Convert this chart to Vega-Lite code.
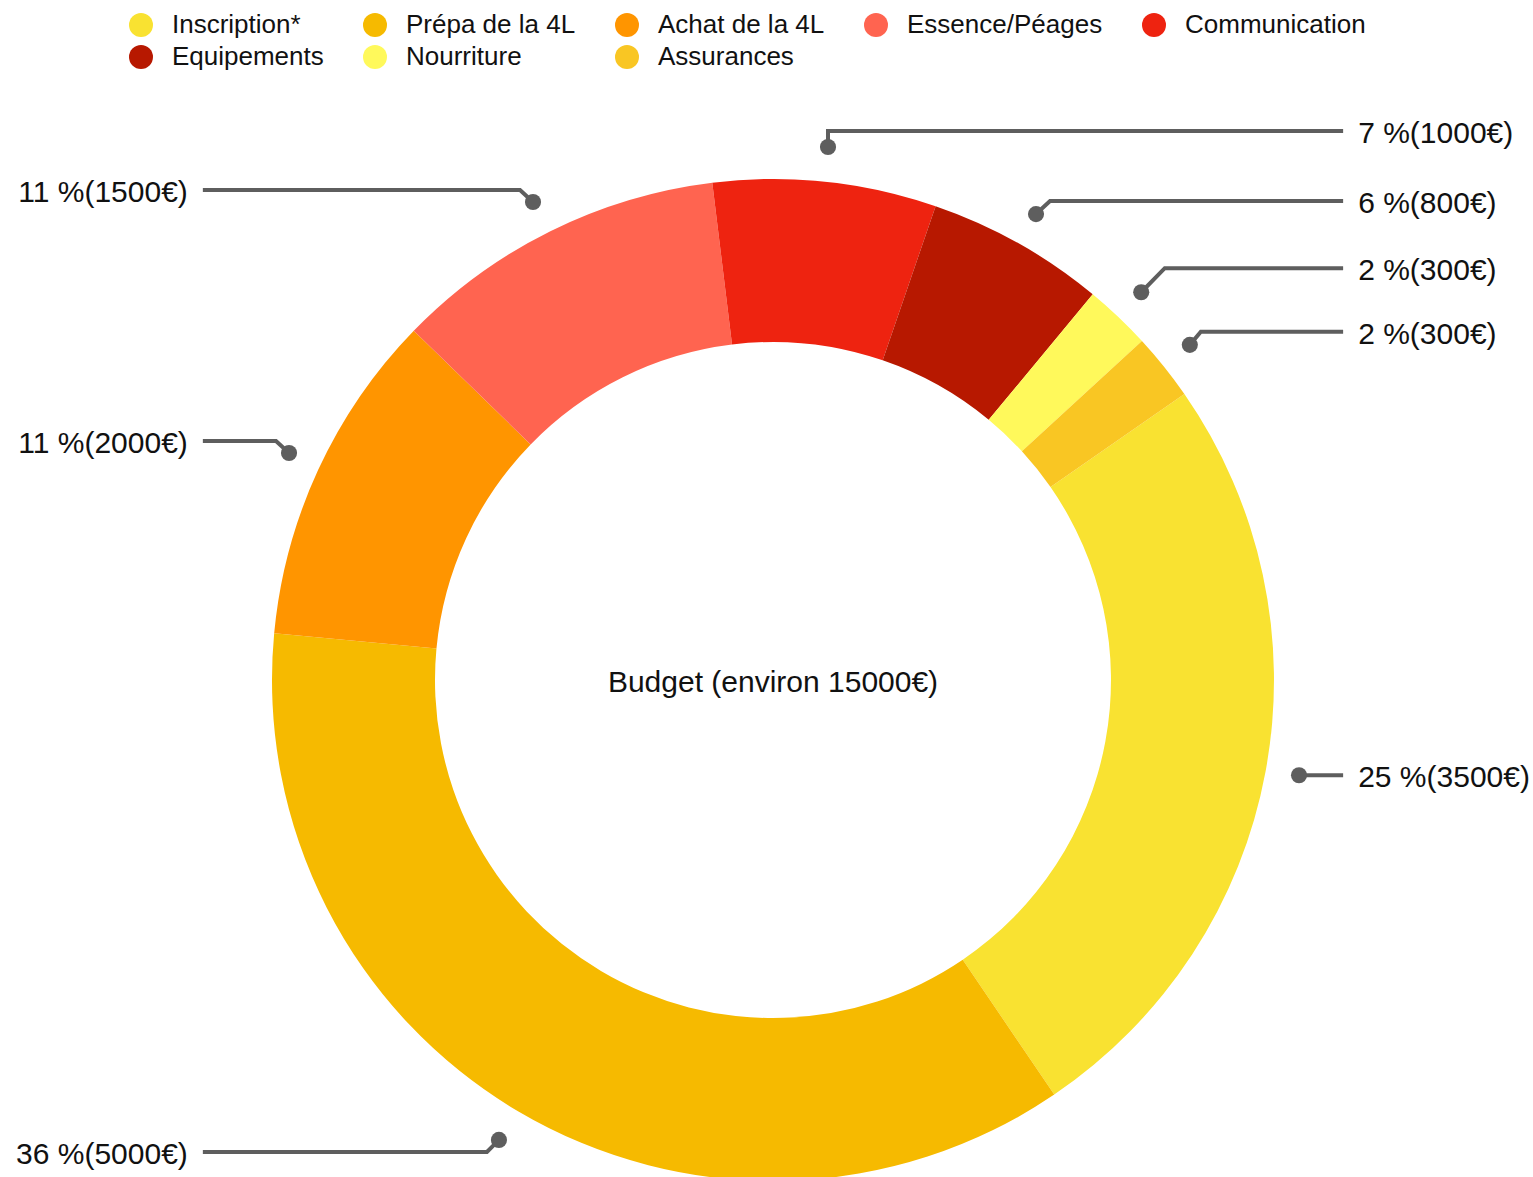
{
  "$schema": "https://vega.github.io/schema/vega-lite/v6.json",
  "width": 1533,
  "height": 1177,
  "autosize": {"type": "none"},
  "padding": 0,
  "background": "white",
  "config": {"view": {"stroke": null}, "font": "Liberation Sans"},
  "datasets": {
    "slices": [
      {"category": "Inscription*", "value": 3500, "order": 1},
      {"category": "Prépa de la 4L", "value": 5000, "order": 2},
      {"category": "Achat de la 4L", "value": 1500, "order": 3},
      {"category": "Essence/Péages", "value": 1500, "order": 4},
      {"category": "Communication", "value": 1000, "order": 5},
      {"category": "Equipements", "value": 800, "order": 6},
      {"category": "Nourriture", "value": 300, "order": 7},
      {"category": "Assurances", "value": 300, "order": 8}
    ],
    "leaders": [
      {"id": "c", "i": 0, "x": 10.98, "y": 106.4},
      {"id": "c", "i": 1, "x": 10.98, "y": 109.6},
      {"id": "c", "i": 2, "x": 113.8, "y": 109.6},
      {"id": "e", "i": 0, "x": 52.5, "y": 93.0},
      {"id": "e", "i": 1, "x": 55.3, "y": 95.6},
      {"id": "e", "i": 2, "x": 113.8, "y": 95.6},
      {"id": "n", "i": 0, "x": 73.5, "y": 77.4},
      {"id": "n", "i": 1, "x": 78.2, "y": 82.2},
      {"id": "n", "i": 2, "x": 113.8, "y": 82.2},
      {"id": "a", "i": 0, "x": 83.2, "y": 66.9},
      {"id": "a", "i": 1, "x": 85.4, "y": 69.5},
      {"id": "a", "i": 2, "x": 113.8, "y": 69.5},
      {"id": "i", "i": 0, "x": 105.0, "y": -19.0},
      {"id": "i", "i": 1, "x": 113.8, "y": -19.0},
      {"id": "p", "i": 0, "x": -54.7, "y": -91.8},
      {"id": "p", "i": 1, "x": -57.1, "y": -94.2},
      {"id": "p", "i": 2, "x": -113.8, "y": -94.2},
      {"id": "h", "i": 0, "x": -96.6, "y": 45.3},
      {"id": "h", "i": 1, "x": -99.2, "y": 47.7},
      {"id": "h", "i": 2, "x": -113.8, "y": 47.7},
      {"id": "s", "i": 0, "x": -47.9, "y": 95.4},
      {"id": "s", "i": 1, "x": -50.5, "y": 97.8},
      {"id": "s", "i": 2, "x": -113.8, "y": 97.8}
    ],
    "labels": [
      {"text": "7 %(1000€)", "side": "right", "x": 116.8, "y": 109.6},
      {"text": "6 %(800€)", "side": "right", "x": 116.8, "y": 95.6},
      {"text": "2 %(300€)", "side": "right", "x": 116.8, "y": 82.2},
      {"text": "2 %(300€)", "side": "right", "x": 116.8, "y": 69.5},
      {"text": "25 %(3500€)", "side": "right", "x": 116.8, "y": -19.0},
      {"text": "36 %(5000€)", "side": "left", "x": -116.8, "y": -94.2},
      {"text": "11 %(2000€)", "side": "left", "x": -116.8, "y": 47.7},
      {"text": "11 %(1500€)", "side": "left", "x": -116.8, "y": 97.8}
    ],
    "center": [{"text": "Budget (environ 15000€)"}]
  },
  "layer": [
    {
      "data": {"name": "slices"},
      "mark": {"type": "arc", "outerRadius": 501, "innerRadius": 338, "strokeWidth": 0},
      "encoding": {
        "x": {"datum": 0, "type": "quantitative", "scale": {"domain": [-154.29, 151.7], "nice": false, "zero": false}, "axis": null},
        "y": {"datum": 0, "type": "quantitative", "scale": {"domain": [-99.2, 135.73], "nice": false, "zero": false}, "axis": null},
        "theta": {"field": "value", "type": "quantitative", "stack": true, "scale": {"range": [0.9634, 7.2466]}},
        "order": {"field": "order", "type": "quantitative"},
        "color": {
          "field": "category",
          "type": "nominal",
          "scale": {
            "domain": ["Inscription*", "Prépa de la 4L", "Achat de la 4L", "Essence/Péages", "Communication", "Equipements", "Nourriture", "Assurances"],
            "range": ["#F9E231", "#F6BA00", "#FF9500", "#FF6450", "#EE2310", "#B71800", "#FFF95B", "#F9C623"]
          },
          "legend": {
            "title": null,
            "orient": "none",
            "direction": "horizontal",
            "legendX": 128,
            "legendY": 12,
            "columns": 5,
            "columnPadding": 38,
            "rowPadding": 6,
            "padding": 0,
            "symbolType": "circle",
            "symbolSize": 576,
            "symbolStrokeWidth": 0,
            "labelFontSize": 26,
            "labelOffset": 18,
            "labelColor": "#111111",
            "labelLimit": 400
          }
        }
      }
    },
    {
      "data": {"name": "leaders"},
      "mark": {"type": "line", "stroke": "#5e5e5e", "strokeWidth": 4, "strokeJoin": "miter"},
      "encoding": {
        "x": {"field": "x", "type": "quantitative", "scale": {"domain": [-154.29, 151.7], "nice": false, "zero": false}, "axis": null},
        "y": {"field": "y", "type": "quantitative", "scale": {"domain": [-99.2, 135.73], "nice": false, "zero": false}, "axis": null},
        "detail": {"field": "id", "type": "nominal"},
        "order": {"field": "i", "type": "quantitative"}
      }
    },
    {
      "data": {"name": "leaders"},
      "transform": [{"filter": "datum.i == 0"}],
      "mark": {"type": "point", "filled": true, "size": 260, "color": "#5e5e5e", "opacity": 1},
      "encoding": {
        "x": {"field": "x", "type": "quantitative", "scale": {"domain": [-154.29, 151.7], "nice": false, "zero": false}, "axis": null},
        "y": {"field": "y", "type": "quantitative", "scale": {"domain": [-99.2, 135.73], "nice": false, "zero": false}, "axis": null}
      }
    },
    {
      "data": {"name": "labels"},
      "transform": [{"filter": "datum.side == 'right'"}],
      "mark": {"type": "text", "align": "left", "baseline": "middle", "dy": 3, "fontSize": 30, "color": "#111111"},
      "encoding": {
        "x": {"field": "x", "type": "quantitative", "scale": {"domain": [-154.29, 151.7], "nice": false, "zero": false}, "axis": null},
        "y": {"field": "y", "type": "quantitative", "scale": {"domain": [-99.2, 135.73], "nice": false, "zero": false}, "axis": null},
        "text": {"field": "text"}
      }
    },
    {
      "data": {"name": "labels"},
      "transform": [{"filter": "datum.side == 'left'"}],
      "mark": {"type": "text", "align": "right", "baseline": "middle", "dy": 3, "fontSize": 30, "color": "#111111"},
      "encoding": {
        "x": {"field": "x", "type": "quantitative", "scale": {"domain": [-154.29, 151.7], "nice": false, "zero": false}, "axis": null},
        "y": {"field": "y", "type": "quantitative", "scale": {"domain": [-99.2, 135.73], "nice": false, "zero": false}, "axis": null},
        "text": {"field": "text"}
      }
    },
    {
      "data": {"name": "center"},
      "mark": {"type": "text", "align": "center", "baseline": "middle", "dy": 3, "fontSize": 30, "color": "#111111"},
      "encoding": {
        "x": {"datum": 0, "type": "quantitative", "scale": {"domain": [-154.29, 151.7], "nice": false, "zero": false}, "axis": null},
        "y": {"datum": 0, "type": "quantitative", "scale": {"domain": [-99.2, 135.73], "nice": false, "zero": false}, "axis": null},
        "text": {"field": "text"}
      }
    }
  ]
}
